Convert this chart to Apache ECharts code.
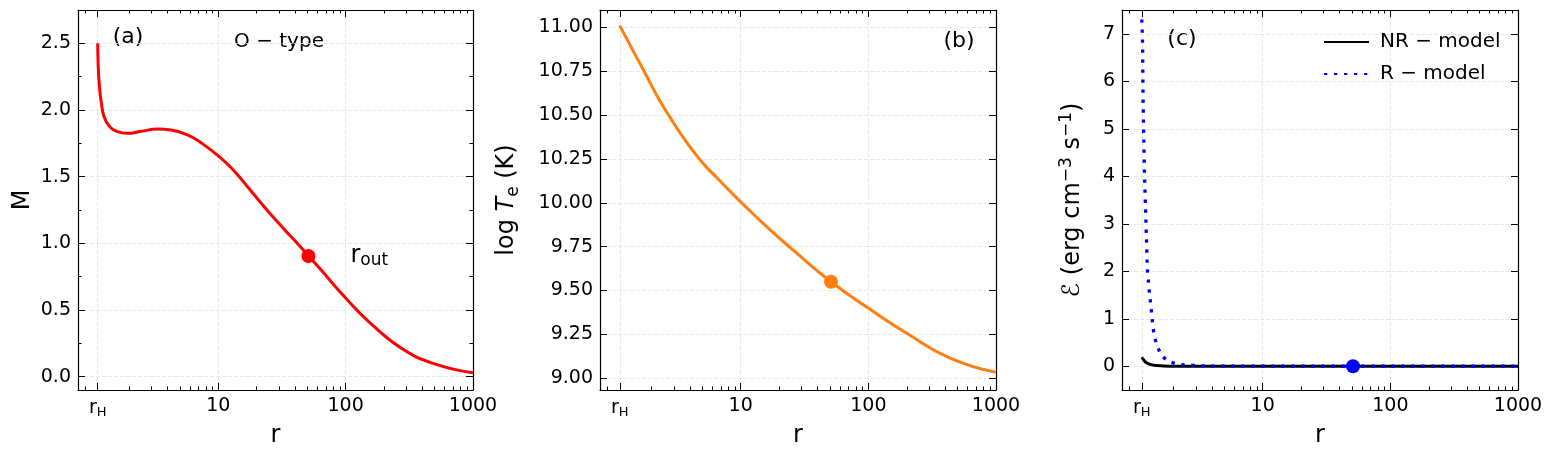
<!DOCTYPE html>
<html>
<head>
<meta charset="utf-8">
<script src="https://cdn.jsdelivr.net/npm/echarts@6/dist/echarts.min.js"></script>
<style>
html, body { margin: 0; padding: 0; background: #fff; }
#chart { width: 1554px; height: 461px; }
</style>
</head>
<body>
<div id="chart"></div>
<script>
// horizon radius, outer boundary and x range
const rH = 1.13;
const rOut = 51;
const rMin = 0.7 * rH;
const rMax = 1000;

// x ticks (r, log scale)
const xMajorTicks = [rH, 10, 100, 1000];
const xMinorTicks = [0.8, 0.9, 2, 3, 4, 5, 6, 7, 8, 9, 20, 30, 40, 50, 60, 70, 80, 90,
    200, 300, 400, 500, 600, 700, 800, 900];

// (a) Mach number
const rMach = [1.13, 1.138, 1.165, 1.208, 1.268, 1.39, 1.616, 1.937, 2.47, 3.34, 4.26, 5.77, 7.17,
    10, 13.1, 17.8, 24.1, 32.6, 44.1, 51.3, 63.5, 100, 157, 288, 529, 1000];
const machVals = [2.5, 2.35, 2.175, 2.05, 1.95, 1.88, 1.838, 1.825, 1.84, 1.857, 1.85, 1.812, 1.76,
    1.656, 1.55, 1.40, 1.25, 1.11, 0.975, 0.905, 0.805, 0.59, 0.40, 0.20, 0.088, 0.03];
const machOut = 0.905;

// (b) electron temperature
const rTemp = [1.13, 1.38, 1.757, 2.23, 2.84, 3.61, 4.87, 6.57, 10, 16.2, 26.1, 51, 100, 200, 437, 1000];
const logTeVals = [11.01, 10.89, 10.748, 10.605, 10.48, 10.365, 10.24, 10.14, 10.005, 9.86, 9.727,
    9.55, 9.40, 9.256, 9.115, 9.034];
const logTeOut = 9.55;

// (c) emissivity
const rNR = [1.13, 1.165, 1.213, 1.33, 1.5, 1.68, 2.2, 3, 10, 100, 1000];
const emisNR = [0.19, 0.14, 0.083, 0.034, 0.014, 0.007, 0.002, 0.001, 0, 0, 0];
const rR = [1.13, 1.144, 1.151, 1.158, 1.172, 1.186, 1.207, 1.229, 1.25, 1.273, 1.289, 1.313, 1.337,
    1.361, 1.386, 1.429, 1.509, 1.63, 1.86, 2.2, 2.62, 3.12, 3.73, 5, 10, 100, 1000];
const emisR = [7.3, 6.9, 6.2, 5.5, 4.8, 4.1, 3.4, 2.7, 2.05, 1.8, 1.62, 1.43, 1.23,
    1.01, 0.81, 0.6, 0.4, 0.22, 0.1, 0.04, 0.025, 0.012, 0.005, 0.002, 0.0005, 0, 0];
const emisOut = 0;

// y ticks
const yTicksA = [0, 0.5, 1, 1.5, 2, 2.5];
const yMinorA = [0.25, 0.75, 1.25, 1.75, 2.25];
const yTicksB = [9, 9.25, 9.5, 9.75, 10, 10.25, 10.5, 10.75, 11];
const yTicksC = [0, 1, 2, 3, 4, 5, 6, 7];

const FONT = 'DejaVu Sans';
const gridLine = { color: '#e2e2e2', type: [4, 2], width: 0.8 };

function pairs(xs, ys) {
    return xs.map((x, i) => [x, ys[i]]);
}

function tick(vals, len) {
    return { show: true, inside: true, length: len, customValues: vals,
        lineStyle: { color: '#000', width: 1 } };
}

function line(show) {
    return { show: show, onZero: false, lineStyle: { color: '#000', width: 1.2 } };
}

const xAxes = [];
const yAxes = [];

function addX(g) {
    const idx = xAxes.length;
    [['bottom', xMajorTicks, 7], ['bottom', xMinorTicks, 3.5], ['top', xMajorTicks, 7], ['top', xMinorTicks, 3.5]]
        .forEach(([pos, vals, len], k) => {
            const ax = { type: 'log', gridIndex: g, min: rMin, max: rMax, position: pos,
                axisLine: line(k % 2 === 0),
                splitLine: { show: false },
                axisLabel: { show: false },
                axisTick: tick(vals, len) };
            if (k === 0) {
                ax.splitLine = { show: true, lineStyle: gridLine };
                ax.axisLabel = {
                    show: true, customValues: xMajorTicks, margin: 7, fontSize: 19, color: '#000', fontFamily: FONT,
                    formatter: v => Math.abs(v - rH) < 1e-4 ? '{n|r}{s|H}' : String(Math.round(v)),
                    rich: {
                        n: { fontSize: 19, fontFamily: FONT, color: '#000', lineHeight: 22 },
                        s: { fontSize: 13, fontFamily: FONT, color: '#000', verticalAlign: 'bottom', lineHeight: 14 }
                    }
                };
                ax.name = 'r';
                ax.nameLocation = 'middle';
                ax.nameGap = 28;
                ax.nameTextStyle = { fontSize: 24, color: '#000', fontFamily: FONT };
            }
            xAxes.push(ax);
        });
    return idx;
}

function addY(g, min, max, major, minor, fmt, name, nameGap, rich) {
    const idx = yAxes.length;
    const specs = [['left', major, 7, true], ['right', major, 7, true]];
    if (minor) {
        specs.push(['left', minor, 3.5, false], ['right', minor, 3.5, false]);
    }
    specs.forEach(([pos, vals, len, isMajor], k) => {
        const ax = { type: 'value', gridIndex: g, min: min, max: max, position: pos,
            axisLine: line(isMajor),
            splitLine: { show: false },
            axisLabel: { show: false },
            axisTick: tick(vals, len) };
        if (k === 0) {
            ax.splitLine = { show: true, lineStyle: gridLine };
            ax.axisLabel = { show: true, customValues: major, margin: 7, fontSize: 19, color: '#000',
                fontFamily: FONT, formatter: fmt };
            ax.name = name;
            ax.nameLocation = 'middle';
            ax.nameGap = nameGap;
            ax.nameTextStyle = { fontSize: 24, color: '#000', fontFamily: FONT, rich: rich };
        }
        yAxes.push(ax);
    });
    return idx;
}

const nameRich = {
    n: { fontSize: 24, fontFamily: FONT, color: '#000', lineHeight: 30 },
    i: { fontSize: 24, fontFamily: FONT, color: '#000', fontStyle: 'italic', lineHeight: 30 },
    sub: { fontSize: 17, fontFamily: FONT, color: '#000', verticalAlign: 'bottom', lineHeight: 18 },
    sup: { fontSize: 17, fontFamily: FONT, color: '#000', verticalAlign: 'top', lineHeight: 18 }
};

const xa = addX(0), xb = addX(1), xc = addX(2);
const ya = addY(0, -0.1, 2.75, yTicksA, yMinorA, v => v.toFixed(1), 'M', 43, nameRich);
const yb = addY(1, 8.933, 11.099, yTicksB, null, v => v.toFixed(2),
    '{n|log }{i|T}{sub|e}{n| (K)}', 78, nameRich);
const yc = addY(2, -0.5, 7.5, yTicksC, null, v => String(v),
    '{n|ℰ (erg cm}{sup|−3}{n| s}{sup|−1}{n|)}', 34, nameRich);

const lineCommon = { type: 'line', showSymbol: false, symbol: 'none', smooth: 0.5 };
const dotCommon = { type: 'scatter', symbolSize: 14, z: 5 };

const option = {
    animation: false,
    backgroundColor: '#fff',
    grid: [
        { left: 78, top: 10, width: 395, height: 380 },
        { left: 600, top: 10, width: 396, height: 380 },
        { left: 1122, top: 10, width: 396, height: 380 }
    ],
    xAxis: xAxes,
    yAxis: yAxes,
    legend: {
        data: ['NR − model', 'R − model'],
        orient: 'vertical', left: 1318, top: 27,
        itemWidth: 45, itemHeight: 14, itemGap: 12,
        itemStyle: { opacity: 0 },
        textStyle: { fontSize: 20, color: '#000', fontFamily: FONT, padding: [0, 0, 0, 6] }
    },
    graphic: [
        { type: 'text', x: 128, y: 37, style: { text: '(a)', fontSize: 22, fontFamily: FONT, fill: '#000',
            textAlign: 'center', textVerticalAlign: 'middle' } },
        { type: 'text', x: 279, y: 42, style: { text: 'O − type', fontSize: 20, fontFamily: FONT, fill: '#000',
            textAlign: 'center', textVerticalAlign: 'middle' } },
        { type: 'text', x: 959, y: 41, style: { text: '(b)', fontSize: 22, fontFamily: FONT, fill: '#000',
            textAlign: 'center', textVerticalAlign: 'middle' } },
        { type: 'text', x: 1182, y: 39, style: { text: '(c)', fontSize: 22, fontFamily: FONT, fill: '#000',
            textAlign: 'center', textVerticalAlign: 'middle' } }
    ],
    series: [
        Object.assign({}, lineCommon, { name: 'M', xAxisIndex: xa, yAxisIndex: ya,
            data: pairs(rMach, machVals), lineStyle: { color: '#ff0000', width: 3 }, itemStyle: { color: '#ff0000' } }),
        Object.assign({}, dotCommon, { xAxisIndex: xa, yAxisIndex: ya, data: [[rOut, machOut]],
            itemStyle: { color: '#ff0000', opacity: 1 },
            label: { show: true, position: 'right', distance: 35, formatter: '{n|r}{s|out}', color: '#000',
                rich: {
                    n: { fontSize: 24, fontFamily: FONT, color: '#000', lineHeight: 26 },
                    s: { fontSize: 17, fontFamily: FONT, color: '#000', verticalAlign: 'bottom', lineHeight: 18 }
                } } }),
        Object.assign({}, lineCommon, { name: 'logTe', xAxisIndex: xb, yAxisIndex: yb,
            data: pairs(rTemp, logTeVals), lineStyle: { color: '#ff7f0e', width: 3 }, itemStyle: { color: '#ff7f0e' } }),
        Object.assign({}, dotCommon, { xAxisIndex: xb, yAxisIndex: yb, data: [[rOut, logTeOut]],
            itemStyle: { color: '#ff7f0e', opacity: 1 } }),
        Object.assign({}, lineCommon, { name: 'NR − model', xAxisIndex: xc, yAxisIndex: yc, smooth: 0.3,
            data: pairs(rNR, emisNR), lineStyle: { color: '#000', width: 3 }, itemStyle: { color: '#000' } }),
        Object.assign({}, lineCommon, { name: 'R − model', xAxisIndex: xc, yAxisIndex: yc, z: 3, smooth: 0.3,
            data: pairs(rR, emisR), lineStyle: { color: '#0000ff', width: 3.3, type: [3.3, 6.7], cap: 'butt' },
            itemStyle: { color: '#0000ff' } }),
        Object.assign({}, dotCommon, { xAxisIndex: xc, yAxisIndex: yc, data: [[rOut, emisOut]],
            itemStyle: { color: '#0000ff', opacity: 1 } })
    ]
};

const chart = echarts.init(document.getElementById('chart'));
chart.setOption(option);
</script>
</body>
</html>
